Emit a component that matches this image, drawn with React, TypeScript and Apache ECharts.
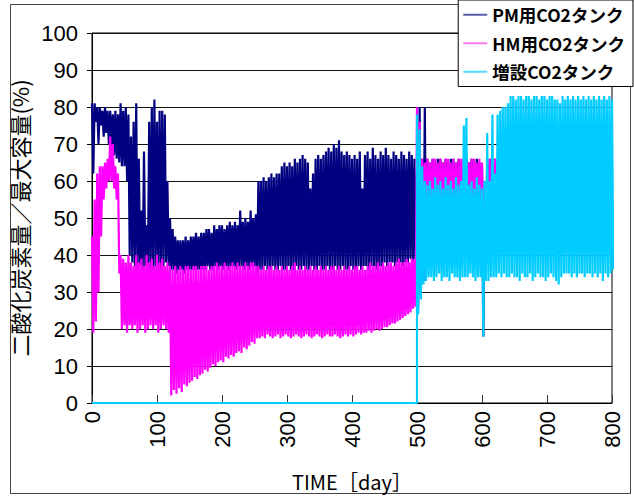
import React, { useEffect, useRef } from 'react';
import * as echarts from 'echarts';

// ---- data ----
const SAMPLE_STEP = 4; // days between envelope samples
const seriesNames = ['PM用CO2タンク', 'HM用CO2タンク', '増設CO2タンク'];
const seriesColors = ['#000080', '#ff00ff', '#00ccff'];
const legendColors = ['#5a5aa8', '#ff7cf0', '#4fd8ff'];

// PM tank: samples every 4 days from day 0 (upper / lower swing)
const pmStartDay = 0;
const pmHigh = [
  81, 81, 80, 80, 79, 80, 79, 79, 78, 79, 78, 81, 79, 80, 78, 72, 76, 81, 66, 52, 68, 48, 76, 80, 82, 76, 79, 79, 78, 60,
  50, 47, 45, 44, 44, 44, 45, 44, 45, 45, 46, 45, 46, 46, 47, 47, 46, 48, 47, 48, 48, 47, 48, 49, 48, 49, 48, 52, 49, 50, 49, 52, 50, 51,
  60, 60, 61, 60, 61, 62, 61, 62, 62, 64, 65, 64, 65, 64, 66, 65, 66, 67, 66, 65, 58, 62, 66, 67, 66, 67, 68, 69, 68, 70,
  69, 71, 68, 67, 68, 67, 66, 67, 66, 68, 58, 67, 68, 66, 69, 67, 66, 68, 67, 69, 67, 66, 68, 67, 66, 68, 67, 66, 68, 67, 66,
  62, 80, 66, 80, 66, 65, 66, 65, 66, 66, 65, 66, 65, 66, 66, 65, 66, 65, 66, 66, 65, 66, 65, 66, 65, 64, 56, 65, 66, 65, 66, 65,
];
const pmLow = [
  62, 76, 70, 75, 72, 73, 70, 69, 67, 66, 65, 64, 64, 60, 40, 38, 37, 36, 37, 36, 37, 36, 36, 36, 37, 36, 36, 37, 38, 37,
  36, 36, 35, 36, 36, 35, 36, 36, 36, 36, 36, 36, 36, 36, 37, 36, 36, 37, 36, 37, 36, 37, 36, 37, 37, 36, 37, 37, 36, 37, 36, 37, 37, 35,
  36, 36, 37, 36, 36, 37, 36, 36, 37, 36, 36, 37, 36, 36, 37, 36, 36, 37, 36, 36, 37, 36, 36, 37, 36, 36, 37, 36, 36, 37,
  36, 36, 37, 36, 36, 37, 36, 36, 37, 36, 37, 37, 36, 37, 37, 36, 37, 37, 38, 37, 38, 38, 37, 38, 38, 37, 38, 38, 39, 38, 38,
  30, 30, 33, 36, 40, 40, 41, 40, 40, 41, 40, 40, 41, 40, 40, 41, 40, 40, 41, 40, 40, 41, 40, 40, 41, 18, 40, 38, 40, 41, 40, 40,
];

// HM tank: samples every 4 days from day 0
const hmStartDay = 0;
const hmHigh = [
  45, 55, 62, 64, 64, 65, 66, 72, 70, 64, 62, 40, 39, 38, 40, 38, 37, 40, 38, 39, 37, 40, 38, 39, 37, 40, 38, 39, 37, 38,
  37, 36, 37, 36, 37, 36, 37, 37, 36, 37, 37, 36, 37, 37, 37, 36, 37, 37, 38, 37, 37, 38, 37, 37, 38, 37, 38, 37, 37, 38, 37, 38, 38, 37,
  37, 36, 37, 36, 37, 37, 36, 37, 36, 37, 36, 37, 36, 37, 38, 36, 37, 36, 37, 36, 37, 36, 37, 36, 37, 36, 37, 36, 37, 37,
  36, 37, 36, 37, 36, 37, 36, 37, 37, 36, 37, 36, 37, 38, 37, 37, 38, 37, 38, 37, 38, 38, 37, 38, 39, 38, 38, 39, 38, 39, 39,
  80, 76, 66, 65, 66, 65, 66, 66, 65, 66, 65, 66, 66, 65, 66, 65, 66, 66, 65, 66, 65, 66, 66, 65, 66, 65, 58, 65, 66, 65, 66, 65,
];
const hmLow = [
  19, 22, 30, 45, 55, 58, 60, 60, 58, 55, 35, 20, 21, 19, 21, 20, 21, 19, 20, 21, 19, 20, 21, 20, 21, 19, 20, 21, 20, 19,
  2, 3.5, 2.5, 4, 3, 5, 4.5, 5.5, 6, 7, 6.5, 7.5, 8, 9, 8.5, 9.5, 10.5, 10, 11, 11.5, 11, 12.5, 12, 13, 12.5, 13.5, 14, 13.5, 15, 14.5, 15.5, 16.5, 16, 17.5,
  17.5, 18, 17.5, 18.5, 18, 17.5, 18, 18.5, 17.5, 18, 18.5, 18, 17.5, 18, 18.5, 18, 17.5, 18, 18.5, 18, 17.5, 18, 18.5, 18, 17.5, 18, 18.5, 18, 18, 18.5,
  18, 17.5, 18, 18.5, 18, 18.5, 18, 18.5, 19, 18.5, 19, 19, 19.5, 19, 19.5, 20, 19.5, 20, 20.5, 20.5, 21, 21.5, 21.5, 22, 22.5, 23, 23.5, 24, 24.5, 25.5, 26,
  26, 35, 40, 45, 45, 46, 45, 45, 46, 45, 45, 46, 45, 45, 46, 45, 45, 46, 45, 45, 46, 45, 45, 46, 45, 45, 35, 45, 46, 45, 45, 46,
];

// Added tank: empty (0 %) until day 500, then samples every 4 days
const cyEmptyDays = [0, 500];
const cyEmptyValue = 0;
const cyStartDay = 500;
const cyHigh = [
  78, 74, 64, 60, 59, 60, 58, 61, 59, 60, 58, 61, 59, 60, 58, 61, 59, 60, 75, 77, 59, 60, 58, 61, 59, 58, 60, 73, 60, 78,
  62, 78, 79, 80, 80, 81, 83, 83, 82, 83, 83, 82, 83, 83, 82, 83, 83, 82, 83, 83, 82, 83, 83, 82, 82, 81, 83, 82, 83, 82,
  83, 82, 83, 82, 83, 82, 83, 82, 83, 82, 83, 82, 83, 82, 83, 82,
];
const cyLow = [
  24, 28, 32, 33, 34, 34, 33, 34, 35, 33, 34, 34, 33, 35, 34, 34, 33, 34, 34, 34, 35, 34, 33, 34, 34, 18, 33, 33, 34, 34,
  34, 35, 34, 35, 34, 34, 35, 34, 34, 33, 35, 34, 34, 35, 33, 34, 35, 34, 34, 33, 34, 35, 34, 33, 32, 34, 35, 35, 35, 34,
  35, 34, 35, 35, 34, 35, 35, 34, 35, 34, 35, 33, 35, 34, 35, 36,
];

const xMin = 0, xMax = 800, xInterval = 100;
const yMin = 0, yMax = 100, yInterval = 10;
const xTitle = 'TIME［day］';
const yTitle = '二酸化炭素量／最大容量(%)';

function swing(startDay: number, high: number[], low: number[]) {
  const out: number[][] = [];
  high.forEach((h, i) => {
    const d = startDay + i * SAMPLE_STEP;
    out.push([d, h]);
    out.push([d + SAMPLE_STEP / 2, low[i]]);
  });
  return out;
}

export default function App() {
  const ref = useRef<HTMLDivElement>(null);
  useEffect(() => {
    if (!ref.current) return;
    const chart = echarts.init(ref.current, undefined, { renderer: 'svg' });
    const cyData = [
      ...cyEmptyDays.map((d) => [d, cyEmptyValue]),
      ...swing(cyStartDay, cyHigh, cyLow),
    ];
    const datasets = [swing(pmStartDay, pmHigh, pmLow), swing(hmStartDay, hmHigh, hmLow), cyData];
    const jp = '"Noto Sans CJK JP", sans-serif';
    chart.setOption({
      animation: false,
      backgroundColor: '#fff',
      grid: { left: 92, right: 22, top: 33, bottom: 94, show: true, borderColor: '#000', borderWidth: 1, backgroundColor: 'transparent' },
      graphic: [
        {
          type: 'rect',
          z: -10,
          shape: { x: 10.5, y: 4.5, width: 620, height: 489 },
          style: { fill: 'none', stroke: '#444', lineWidth: 1 },
          silent: true,
        },
      ],
      legend: {
        orient: 'vertical',
        right: 1,
        top: 0,
        backgroundColor: '#fff',
        borderColor: '#000',
        borderWidth: 1,
        borderRadius: 0,
        padding: [6, 8, 6, 5],
        itemGap: 11,
        itemWidth: 24,
        itemHeight: 2,
        icon: 'rect',
        textStyle: { fontSize: 17.5, fontWeight: 'bold', color: '#000', fontFamily: jp },
        data: seriesNames.map((name, i) => ({ name, itemStyle: { color: legendColors[i] } })),
      },
      xAxis: {
        type: 'value',
        min: xMin,
        max: xMax,
        interval: xInterval,
        name: xTitle,
        nameLocation: 'middle',
        nameGap: 68,
        nameTextStyle: { fontSize: 20, color: '#000', fontFamily: jp },
        axisLine: { show: true, lineStyle: { color: '#000', width: 1 } },
        axisTick: { show: true, inside: true, length: 8, lineStyle: { color: '#333' } },
        axisLabel: { rotate: 90, fontSize: 22, color: '#000', margin: 8, fontFamily: 'Liberation Sans, Arial, sans-serif' },
        splitLine: { show: false },
      },
      yAxis: {
        type: 'value',
        min: yMin,
        max: yMax,
        interval: yInterval,
        name: yTitle,
        nameLocation: 'middle',
        nameRotate: 90,
        nameGap: 46,
        nameTextStyle: { fontSize: 22, color: '#000', fontFamily: jp },
        axisLine: { show: true, lineStyle: { color: '#000', width: 1 } },
        axisTick: { show: true, inside: false, length: 5, lineStyle: { color: '#000' } },
        axisLabel: { fontSize: 22, color: '#000', margin: 14, fontFamily: 'Liberation Sans, Arial, sans-serif' },
        splitLine: { show: true, lineStyle: { color: '#111', width: 1 } },
      },
      series: seriesNames.map((name, i) => ({
        name,
        type: 'line',
        data: datasets[i],
        symbol: 'none',
        showSymbol: false,
        color: seriesColors[i],
        lineStyle: { width: 2.2, color: seriesColors[i], join: 'bevel' },
        clip: true,
      })),
    });
    return () => chart.dispose();
  }, []);
  return <div ref={ref} style={{ position: 'fixed', left: 0, top: 0, width: 634, height: 497 }} />;
}
